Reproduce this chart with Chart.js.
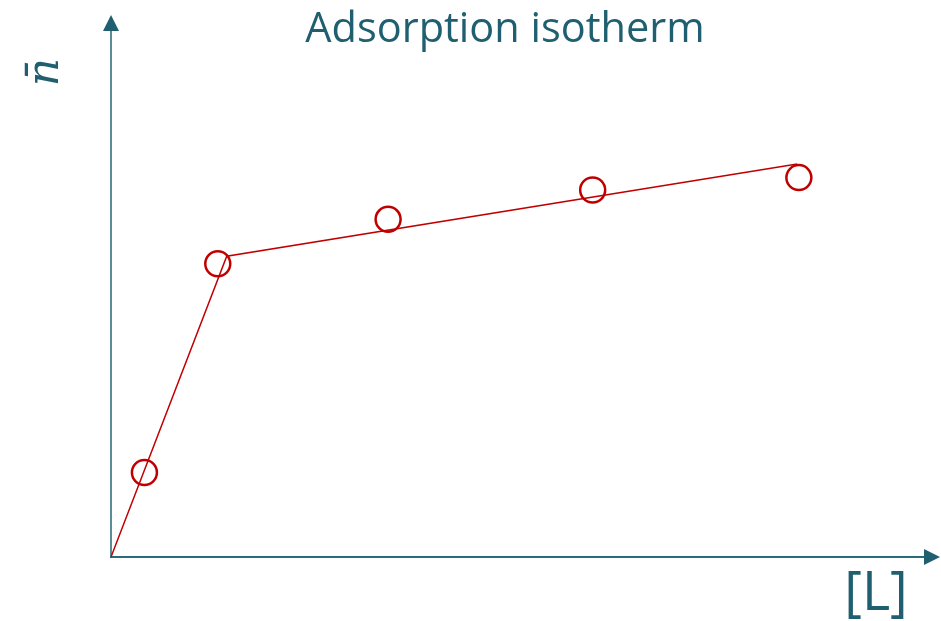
<!DOCTYPE html>
<html>
<head>
<meta charset="utf-8">
<script src="https://cdn.jsdelivr.net/npm/chart.js@4/dist/chart.umd.min.js"></script>
<style>
  html, body { margin: 0; padding: 0; background: #ffffff; }
  #wrap { width: 941px; height: 621px; position: relative; }
</style>
</head>
<body>
<div id="wrap"><canvas id="c" width="941" height="621"></canvas></div>
<script>
// Measured data points (ligand concentration [L], mean bound n̄)
const pointX = [0.41, 1.31, 3.40, 5.91, 8.44];
const pointY = [1.56, 5.41, 6.23, 6.77, 7.00];
// Two-segment fitted line
const fitX = [0, 1.42, 8.42];
const fitY = [0, 5.55, 7.25];
// Axis ranges
const xRange = [0, 10];
const yRange = [0, 10];
// Texts
const titleText = 'Adsorption isotherm';
const xLabel = '[L]';
const yLabel = 'n\u0304';

const TEAL = '#1f5f6f';

const axesPlugin = {
  id: 'axesArrows',
  beforeDatasetsDraw(chart) {
    const ctx = chart.ctx;
    const xs = chart.scales.x, ys = chart.scales.y;
    const ox = xs.getPixelForValue(xRange[0]);
    const oy = ys.getPixelForValue(yRange[0]);
    const xEnd = chart.width - 1;           // arrow runs to the canvas edge
    const yEnd = ys.getPixelForValue(yRange[1]);
    ctx.save();
    // y axis
    ctx.strokeStyle = '#5a8b97';
    ctx.lineWidth = 2;
    ctx.beginPath();
    ctx.moveTo(ox, oy + 1);
    ctx.lineTo(ox, yEnd + 14);
    ctx.stroke();
    // x axis
    ctx.strokeStyle = '#2b6a79';
    ctx.beginPath();
    ctx.moveTo(ox - 1, oy);
    ctx.lineTo(xEnd - 14, oy);
    ctx.stroke();
    // arrowheads
    ctx.fillStyle = TEAL;
    ctx.beginPath();
    ctx.moveTo(ox, yEnd);
    ctx.lineTo(ox - 8, yEnd + 16);
    ctx.lineTo(ox + 8, yEnd + 16);
    ctx.closePath();
    ctx.fill();
    ctx.beginPath();
    ctx.moveTo(xEnd, oy);
    ctx.lineTo(xEnd - 16, oy - 8);
    ctx.lineTo(xEnd - 16, oy + 8);
    ctx.closePath();
    ctx.fill();
    ctx.restore();
  },
  afterDraw(chart) {
    const ctx = chart.ctx;
    ctx.save();
    ctx.fillStyle = TEAL;
    // title
    ctx.font = '41.5px "Open Sans"';
    ctx.textAlign = 'center';
    ctx.textBaseline = 'alphabetic';
    ctx.fillText(titleText, 505, 42);
    // x label
    ctx.font = '54px "Open Sans"';
    ctx.fillText(xLabel, 876, 610);
    // y label rotated
    ctx.translate(58, 72);
    ctx.rotate(-Math.PI / 2);
    ctx.font = 'italic 44px "DejaVu Serif"';
    ctx.textAlign = 'center';
    ctx.fillText(yLabel, 0, 0);
    ctx.restore();
  }
};

new Chart(document.getElementById('c'), {
  type: 'scatter',
  data: {
    datasets: [
      {
        label: 'fit',
        data: fitX.map((x, i) => ({ x, y: fitY[i] })),
        showLine: true,
        borderColor: '#c00000',
        borderWidth: 1.5,
        pointRadius: 0,
        fill: false
      },
      {
        label: 'data',
        data: pointX.map((x, i) => ({ x, y: pointY[i] })),
        showLine: false,
        borderColor: '#c00000',
        backgroundColor: 'rgba(0,0,0,0)',
        borderWidth: 2.5,
        pointRadius: 12.5,
        pointHoverRadius: 12.5
      }
    ]
  },
  options: {
    responsive: false,
    animation: false,
    devicePixelRatio: 1,
    layout: { padding: { left: 111, right: 1, top: 15, bottom: 64 } },
    plugins: { legend: { display: false }, tooltip: { enabled: false }, title: { display: false } },
    scales: {
      x: { type: 'linear', min: xRange[0], max: xRange[1], display: false },
      y: { type: 'linear', min: yRange[0], max: yRange[1], display: false }
    }
  },
  plugins: [axesPlugin]
});
</script>
</body>
</html>
